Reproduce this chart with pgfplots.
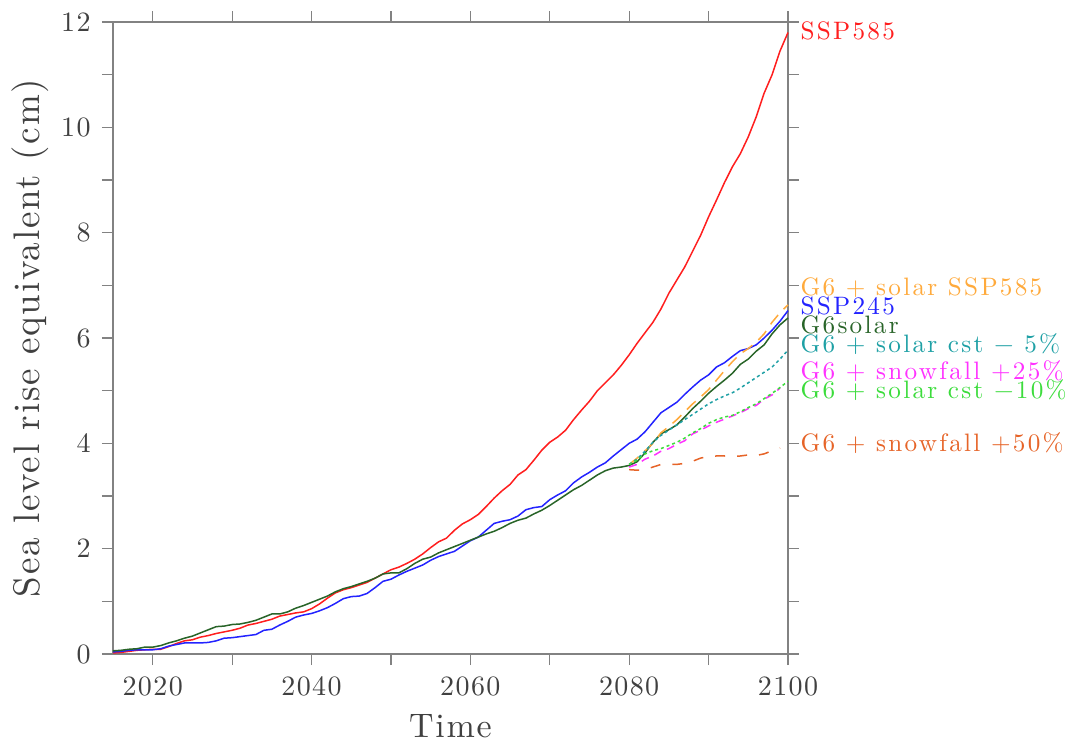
\documentclass[border=0pt]{standalone}
\usepackage{pgfplots}
\pgfplotsset{compat=1.18}
\usepackage{fontspec}
\setmainfont{lmroman10-regular.otf}[LetterSpace=5]
\newfontfamily\lblfont{lmroman10-regular.otf}[LetterSpace=9]

\definecolor{cSSPfive}{RGB}{255,30,30}
\definecolor{cSSPtwo}{RGB}{35,35,255}
\definecolor{cGsolar}{RGB}{40,100,40}
\definecolor{cSolar585}{RGB}{255,170,60}
\definecolor{cCstFive}{RGB}{30,160,165}
\definecolor{cSnowTwentyFive}{RGB}{255,50,255}
\definecolor{cCstTen}{RGB}{60,220,60}
\definecolor{cSnowFifty}{RGB}{230,100,40}
\definecolor{axgray}{RGB}{130,130,130}

\begin{document}
\begin{tikzpicture}
\path[use as bounding box] (-56.5pt,-43.5pt) rectangle (479pt,327pt);
\begin{axis}[
  at={(0,0)}, anchor=south west,
  scale only axis,
  width=337.5pt, height=316pt,
  xmin=2015, xmax=2100,
  ymin=0, ymax=12,
  xtick={2020,2040,...,2100},
  minor xtick={2030,2050,2070,2090},
  ytick={0,2,...,12},
  minor ytick={1,3,...,11},
  tick align=outside,
  major tick length=5.5pt, minor tick length=5.5pt,
  axis line style={axgray, line width=0.6pt},
  every tick/.style={axgray, line width=0.6pt},
  every minor tick/.style={axgray, line width=0.6pt},
  /pgf/number format/assume math mode=true,
  /pgf/number format/1000 sep={},
  tick label style={font=\fontsize{14}{14}\selectfont, text=black!75},
  xticklabel style={yshift=-2pt},
  yticklabel style={xshift=-2pt},
  xlabel={Time},
  ylabel={Sea level rise equivalent (cm)},
  x label style={at={(axis description cs:0.5,-0.114)}, anchor=center,
    font=\fontsize{17}{17}\selectfont, text=black!75},
  y label style={at={(axis description cs:-0.123,0.5)}, anchor=center,
    font=\fontsize{18.5}{18.5}\selectfont, text=black!75},
  clip=false,
  line width=0.75pt,
]

% SSP585
\addplot[cSSPfive, no markers] coordinates {
(2015,0.02)(2016,0.03)(2017,0.05)(2018,0.07)(2019,0.08)(2020,0.09)(2021,0.09)(2022,0.14)(2023,0.20)(2024,0.25)
(2025,0.27)(2026,0.32)(2027,0.35)(2028,0.39)(2029,0.42)(2030,0.45)(2031,0.49)(2032,0.55)(2033,0.58)(2034,0.62)
(2035,0.66)(2036,0.72)(2037,0.75)(2038,0.78)(2039,0.80)(2040,0.86)(2041,0.95)(2042,1.06)(2043,1.16)(2044,1.22)
(2045,1.26)(2046,1.31)(2047,1.36)(2048,1.44)(2049,1.52)(2050,1.60)(2051,1.65)(2052,1.72)(2053,1.80)(2054,1.90)
(2055,2.02)(2056,2.13)(2057,2.20)(2058,2.35)(2059,2.47)(2060,2.55)(2061,2.65)(2062,2.80)(2063,2.96)(2064,3.10)
(2065,3.22)(2066,3.40)(2067,3.50)(2068,3.68)(2069,3.87)(2070,4.02)(2071,4.12)(2072,4.25)(2073,4.45)(2074,4.63)
(2075,4.80)(2076,5.00)(2077,5.15)(2078,5.30)(2079,5.48)(2080,5.68)(2081,5.90)(2082,6.10)(2083,6.30)(2084,6.55)
(2085,6.85)(2086,7.10)(2087,7.35)(2088,7.65)(2089,7.95)(2090,8.30)(2091,8.62)(2092,8.95)(2093,9.25)(2094,9.50)
(2095,9.82)(2096,10.20)(2097,10.65)(2098,11.00)(2099,11.45)(2100,11.80)
};

% SSP245
\addplot[cSSPtwo, no markers] coordinates {
(2015,0.04)(2016,0.05)(2017,0.07)(2018,0.08)(2019,0.08)(2020,0.08)(2021,0.10)(2022,0.15)(2023,0.18)(2024,0.21)
(2025,0.21)(2026,0.21)(2027,0.22)(2028,0.25)(2029,0.30)(2030,0.31)(2031,0.33)(2032,0.35)(2033,0.37)(2034,0.45)
(2035,0.47)(2036,0.55)(2037,0.62)(2038,0.70)(2039,0.74)(2040,0.77)(2041,0.82)(2042,0.88)(2043,0.96)(2044,1.05)
(2045,1.09)(2046,1.10)(2047,1.15)(2048,1.26)(2049,1.38)(2050,1.42)(2051,1.50)(2052,1.57)(2053,1.63)(2054,1.69)
(2055,1.78)(2056,1.85)(2057,1.90)(2058,1.95)(2059,2.05)(2060,2.15)(2061,2.22)(2062,2.35)(2063,2.48)(2064,2.52)
(2065,2.55)(2066,2.62)(2067,2.74)(2068,2.78)(2069,2.80)(2070,2.93)(2071,3.02)(2072,3.10)(2073,3.25)(2074,3.36)
(2075,3.45)(2076,3.55)(2077,3.63)(2078,3.76)(2079,3.88)(2080,4.00)(2081,4.08)(2082,4.22)(2083,4.40)(2084,4.58)
(2085,4.68)(2086,4.78)(2087,4.93)(2088,5.07)(2089,5.20)(2090,5.30)(2091,5.45)(2092,5.53)(2093,5.65)(2094,5.76)
(2095,5.80)(2096,5.87)(2097,6.00)(2098,6.15)(2099,6.32)(2100,6.52)
};

% G6solar
\addplot[cGsolar, no markers] coordinates {
(2015,0.06)(2016,0.07)(2017,0.09)(2018,0.10)(2019,0.13)(2020,0.13)(2021,0.16)(2022,0.21)(2023,0.25)(2024,0.30)
(2025,0.34)(2026,0.40)(2027,0.46)(2028,0.52)(2029,0.53)(2030,0.56)(2031,0.57)(2032,0.60)(2033,0.64)(2034,0.70)
(2035,0.76)(2036,0.76)(2037,0.80)(2038,0.87)(2039,0.92)(2040,0.98)(2041,1.04)(2042,1.10)(2043,1.18)(2044,1.24)
(2045,1.28)(2046,1.33)(2047,1.38)(2048,1.44)(2049,1.52)(2050,1.54)(2051,1.54)(2052,1.62)(2053,1.72)(2054,1.80)
(2055,1.84)(2056,1.92)(2057,1.98)(2058,2.04)(2059,2.10)(2060,2.16)(2061,2.22)(2062,2.28)(2063,2.33)(2064,2.40)
(2065,2.48)(2066,2.54)(2067,2.58)(2068,2.66)(2069,2.73)(2070,2.82)(2071,2.92)(2072,3.02)(2073,3.12)(2074,3.20)
(2075,3.30)(2076,3.40)(2077,3.48)(2078,3.53)(2079,3.55)(2080,3.58)(2081,3.65)(2082,3.82)(2083,4.02)(2084,4.18)
(2085,4.26)(2086,4.35)(2087,4.50)(2088,4.66)(2089,4.80)(2090,4.95)(2091,5.08)(2092,5.20)(2093,5.33)(2094,5.50)
(2095,5.60)(2096,5.75)(2097,5.87)(2098,6.08)(2099,6.25)(2100,6.38)
};

% G6 + solar SSP585
\addplot[cSolar585, no markers, dash pattern=on 6pt off 4pt] coordinates {
(2080,3.60)(2081,3.72)(2082,3.86)(2083,4.00)(2084,4.20)(2085,4.32)(2086,4.45)(2087,4.60)(2088,4.75)(2089,4.88)
(2090,5.02)(2091,5.20)(2092,5.38)(2093,5.55)(2094,5.70)(2095,5.80)(2096,5.92)(2097,6.08)(2098,6.30)(2099,6.48)
(2100,6.63)
};

% G6 + solar cst - 5%
\addplot[cCstFive, no markers, dash pattern=on 1.5pt off 1.5pt] coordinates {
(2080,3.60)(2081,3.70)(2082,3.85)(2083,4.02)(2084,4.15)(2085,4.25)(2086,4.35)(2087,4.45)(2088,4.55)(2089,4.65)
(2090,4.75)(2091,4.83)(2092,4.90)(2093,4.96)(2094,5.05)(2095,5.15)(2096,5.25)(2097,5.35)(2098,5.45)(2099,5.60)
(2100,5.77)
};

% G6 + snowfall +25%
\addplot[cSnowTwentyFive, no markers, dash pattern=on 4pt off 3pt] coordinates {
(2080,3.55)(2081,3.60)(2082,3.70)(2083,3.76)(2084,3.85)(2085,3.90)(2086,3.98)(2087,4.05)(2088,4.18)(2089,4.25)
(2090,4.33)(2091,4.40)(2092,4.46)(2093,4.52)(2094,4.58)(2095,4.66)(2096,4.72)(2097,4.84)(2098,4.92)(2099,5.05)
};

% G6 + solar cst -10%
\addplot[cCstTen, no markers, dash pattern=on 1.5pt off 1.5pt] coordinates {
(2080,3.60)(2081,3.68)(2082,3.80)(2083,3.86)(2084,3.90)(2085,3.96)(2086,4.02)(2087,4.10)(2088,4.20)(2089,4.28)
(2090,4.38)(2091,4.45)(2092,4.50)(2093,4.53)(2094,4.60)(2095,4.68)(2096,4.75)(2097,4.85)(2098,4.95)(2099,5.06)
(2100,5.18)
};

% G6 + snowfall +50%
\addplot[cSnowFifty, no markers, dash pattern=on 5pt off 6pt] coordinates {
(2080,3.50)(2081,3.49)(2082,3.50)(2083,3.55)(2084,3.60)(2085,3.60)(2086,3.60)(2087,3.62)(2088,3.66)(2089,3.72)
(2090,3.75)(2091,3.76)(2092,3.76)(2093,3.75)(2094,3.76)(2095,3.78)(2096,3.77)(2097,3.80)(2098,3.86)(2099,3.91)
};

% line labels at the right
\begin{scope}[every node/.style={anchor=base west, inner sep=0pt, font=\lblfont\fontsize{12.6}{12.6}\selectfont}]
\node[text=cSSPfive] at (axis cs:2101.5,11.66) {SSP585};
\node[text=cSolar585] at (axis cs:2101.5,6.80) {G6 + solar SSP585};
\node[text=cSSPtwo] at (axis cs:2101.5,6.44) {SSP245};
\node[text=cGsolar] at (axis cs:2101.5,6.09) {G6solar};
\node[text=cCstFive] at (axis cs:2101.5,5.73) {G6 + solar cst − 5\%};
\node[text=cSnowTwentyFive] at (axis cs:2101.5,5.21) {G6 + snowfall +25\%};
\node[text=cCstTen] at (axis cs:2101.5,4.86) {G6 + solar cst −10\%};
\node[text=cSnowFifty] at (axis cs:2101.5,3.85) {G6 + snowfall +50\%};
\end{scope}
\end{axis}
\end{tikzpicture}
\end{document}
